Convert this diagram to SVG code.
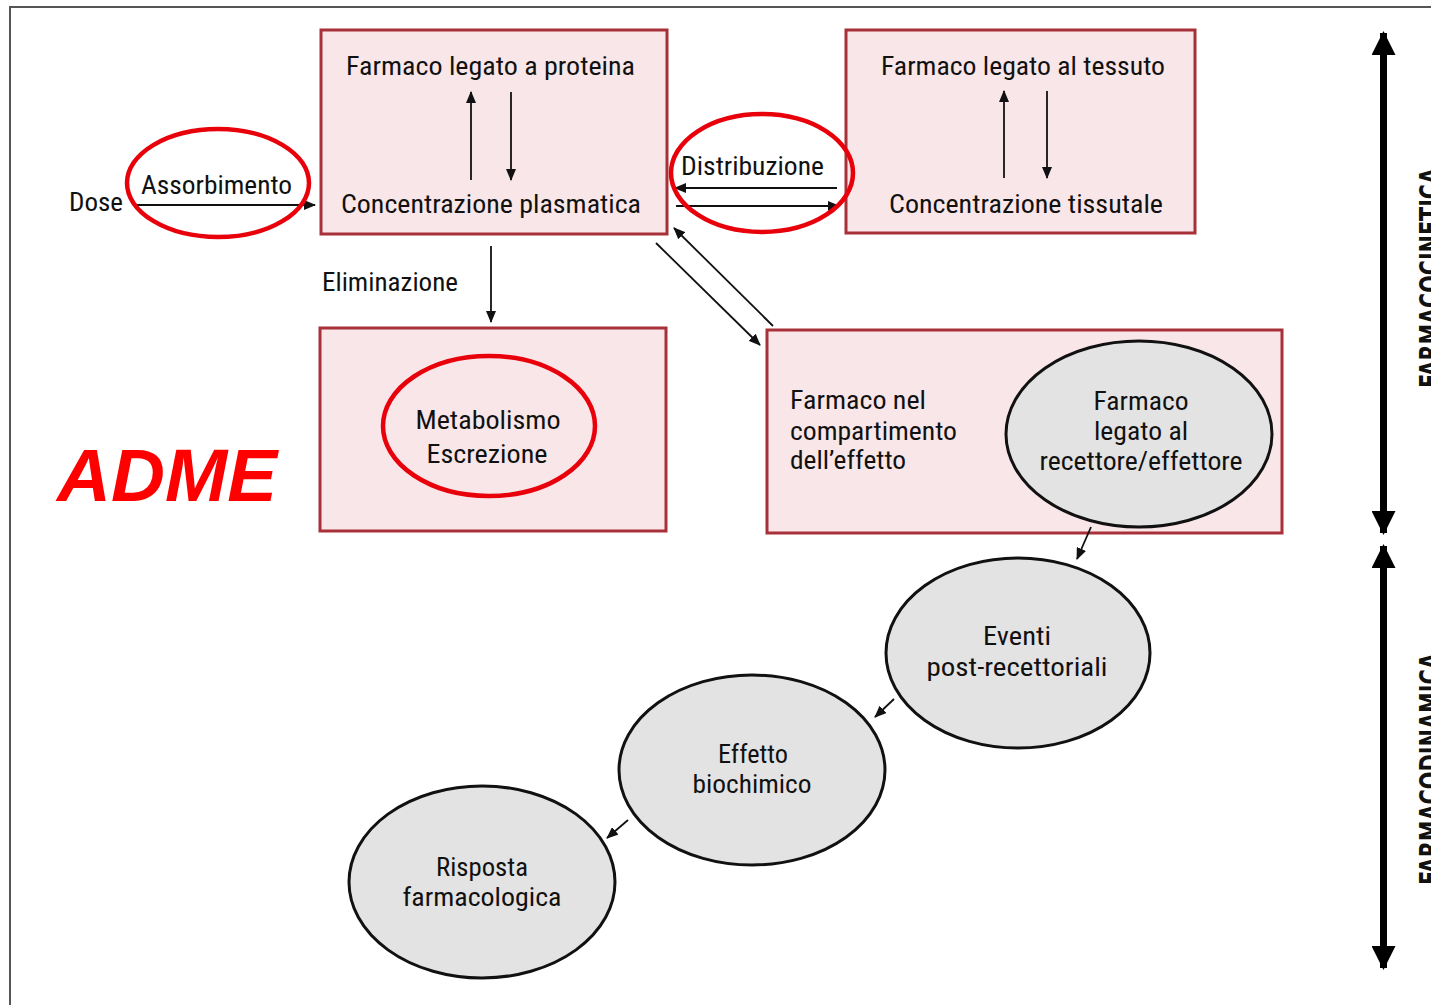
<svg xmlns="http://www.w3.org/2000/svg" width="1431" height="1005" viewBox="0 0 1431 1005">
  <defs>
    <style>
      .lbl { font-family: "Liberation Sans Narrow", "Roboto Condensed", "DejaVu Sans Condensed", "Liberation Sans", sans-serif; font-size: 25px; fill: #111; }
      .mid { text-anchor: middle; }
      .box { fill: #f9e6e8; stroke: #a83038; stroke-width: 3; }
      .oval { fill: #e4e3e3; stroke: #111; stroke-width: 3; }
      .hl { fill: none; stroke: #e8000b; stroke-width: 4.5; }
      .ln { stroke: #111; stroke-width: 1.8; fill: none; marker-end: url(#ah); }
      .big { stroke: #000; stroke-width: 7; fill: none; marker-start: url(#bh); marker-end: url(#bh); }
      .side { font-family: "Liberation Sans Narrow", "DejaVu Sans Condensed", "Liberation Sans", sans-serif; font-size: 28px; font-weight: bold; fill: #111; }
      .adme { font-family: "Liberation Sans", Arial, sans-serif; font-size: 75px; font-weight: bold; font-style: italic; fill: #ff0000; }
    </style>
    <marker id="ah" markerUnits="userSpaceOnUse" markerWidth="12" markerHeight="10" viewBox="0 0 12 10" refX="11" refY="5" orient="auto">
      <path d="M0,0 L12,5 L0,10 Z" fill="#111"/>
    </marker>
    <marker id="bh" markerUnits="userSpaceOnUse" markerWidth="24" markerHeight="24" viewBox="0 0 24 24" refX="22" refY="12" orient="auto-start-reverse">
      <path d="M0,0 L24,12 L0,24 Z" fill="#000"/>
    </marker>
  </defs>

  <rect x="0" y="0" width="1431" height="1005" fill="#ffffff"/>
  <!-- frame -->
  <path d="M10,1005 L10,7 L1431,7" fill="none" stroke="#555" stroke-width="2"/>

  <!-- boxes -->
  <g id="box-proteina">
    <rect class="box" x="321" y="30" width="346" height="204"/>
    <text class="lbl" x="346" y="75" textLength="289" lengthAdjust="spacingAndGlyphs">Farmaco legato a proteina</text>
    <text class="lbl" x="341" y="213" textLength="300" lengthAdjust="spacingAndGlyphs">Concentrazione plasmatica</text>
  </g>
  <g id="box-tessuto">
    <rect class="box" x="846" y="30" width="349" height="203"/>
    <text class="lbl" x="881" y="75" textLength="284" lengthAdjust="spacingAndGlyphs">Farmaco legato al tessuto</text>
    <text class="lbl" x="889" y="213" textLength="274" lengthAdjust="spacingAndGlyphs">Concentrazione tissutale</text>
  </g>
  <g id="box-eliminazione">
    <rect class="box" x="320" y="328" width="346" height="203"/>
  </g>
  <g id="box-effetto">
    <rect class="box" x="767" y="330" width="515" height="203"/>
    <text class="lbl" x="790" y="409" textLength="136" lengthAdjust="spacingAndGlyphs">Farmaco nel</text>
    <text class="lbl" x="790" y="440" textLength="167" lengthAdjust="spacingAndGlyphs">compartimento</text>
    <text class="lbl" x="790" y="469" textLength="116" lengthAdjust="spacingAndGlyphs">dell’effetto</text>
  </g>

  <!-- ovals -->
  <g id="oval-recettore">
    <ellipse class="oval" cx="1139" cy="434" rx="133" ry="93"/>
    <text class="lbl mid" x="1141" y="410" textLength="95" lengthAdjust="spacingAndGlyphs">Farmaco</text>
    <text class="lbl mid" x="1141" y="440" textLength="94" lengthAdjust="spacingAndGlyphs">legato al</text>
    <text class="lbl mid" x="1141" y="470" textLength="203" lengthAdjust="spacingAndGlyphs">recettore/effettore</text>
  </g>
  <g id="oval-eventi">
    <ellipse class="oval" cx="1018" cy="653" rx="132" ry="95"/>
    <text class="lbl mid" x="1017" y="645" textLength="68" lengthAdjust="spacingAndGlyphs">Eventi</text>
    <text class="lbl mid" x="1017" y="676" textLength="181" lengthAdjust="spacingAndGlyphs">post-recettoriali</text>
  </g>
  <g id="oval-effetto">
    <ellipse class="oval" cx="752" cy="770" rx="133" ry="95"/>
    <text class="lbl mid" x="753" y="763" textLength="70" lengthAdjust="spacingAndGlyphs">Effetto</text>
    <text class="lbl mid" x="752" y="793" textLength="119" lengthAdjust="spacingAndGlyphs">biochimico</text>
  </g>
  <g id="oval-risposta">
    <ellipse class="oval" cx="482" cy="882" rx="133" ry="96"/>
    <text class="lbl mid" x="482" y="876" textLength="92" lengthAdjust="spacingAndGlyphs">Risposta</text>
    <text class="lbl mid" x="482" y="906" textLength="159" lengthAdjust="spacingAndGlyphs">farmacologica</text>
  </g>

  <!-- free labels -->
  <g id="label-dose">
    <text class="lbl" x="69" y="211" textLength="54" lengthAdjust="spacingAndGlyphs">Dose</text>
  </g>
  <g id="label-assorbimento">
    <text class="lbl" x="141" y="194" textLength="151" lengthAdjust="spacingAndGlyphs">Assorbimento</text>
  </g>
  <g id="label-distribuzione">
    <text class="lbl" x="681" y="175" textLength="143" lengthAdjust="spacingAndGlyphs">Distribuzione</text>
  </g>
  <g id="label-eliminazione">
    <text class="lbl" x="322" y="291" textLength="136" lengthAdjust="spacingAndGlyphs">Eliminazione</text>
  </g>
  <g id="label-metabolismo">
    <text class="lbl mid" x="488" y="429" textLength="145" lengthAdjust="spacingAndGlyphs">Metabolismo</text>
    <text class="lbl mid" x="487" y="463" textLength="121" lengthAdjust="spacingAndGlyphs">Escrezione</text>
  </g>
  <g id="label-adme">
    <text class="adme" x="57" y="501" textLength="220" lengthAdjust="spacingAndGlyphs">ADME</text>
  </g>

  <!-- connectors -->
  <g id="connectors">
    <line class="ln" x1="134" y1="205" x2="315" y2="205"/>
    <line class="ln" x1="471" y1="180" x2="471" y2="92"/>
    <line class="ln" x1="511" y1="92" x2="511" y2="180"/>
    <line class="ln" x1="1004" y1="178" x2="1004" y2="91"/>
    <line class="ln" x1="1047" y1="91" x2="1047" y2="178"/>
    <line class="ln" x1="837" y1="188" x2="675" y2="188"/>
    <line class="ln" x1="676" y1="206" x2="839" y2="206"/>
    <line class="ln" x1="491" y1="246" x2="491" y2="322"/>
    <line class="ln" x1="656" y1="243" x2="760" y2="345"/>
    <line class="ln" x1="773" y1="326" x2="674" y2="228"/>
    <line class="ln" x1="1091" y1="527" x2="1077" y2="559"/>
    <line class="ln" x1="894" y1="699" x2="875" y2="717"/>
    <line class="ln" x1="628" y1="820" x2="607" y2="838"/>
    <line class="big" x1="1383.5" y1="33" x2="1383.5" y2="533"/>
    <line class="big" x1="1383.5" y1="546" x2="1383.5" y2="968"/>
  </g>

  <!-- highlight circles -->
  <g id="highlights">
    <ellipse class="hl" cx="218" cy="183" rx="91" ry="54"/>
    <ellipse class="hl" cx="762" cy="173" rx="91" ry="59"/>
    <ellipse class="hl" cx="489" cy="426" rx="106" ry="70"/>
  </g>

  <!-- side labels -->
  <g id="side-labels">
    <text class="side" transform="translate(1440,388) rotate(-90)" textLength="220" lengthAdjust="spacingAndGlyphs">FARMACOCINETICA</text>
    <text class="side" transform="translate(1440,885) rotate(-90)" textLength="232" lengthAdjust="spacingAndGlyphs">FARMACODINAMICA</text>
  </g>
</svg>
